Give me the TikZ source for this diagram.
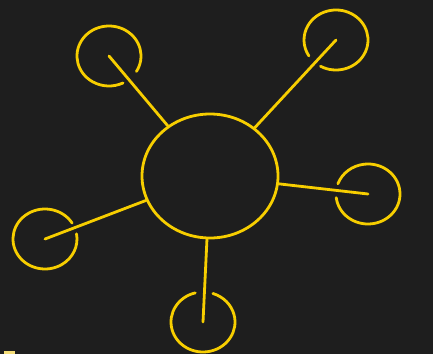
\documentclass[tikz,border=0pt]{standalone}
\usetikzlibrary{shapes.geometric}

\definecolor{board}{RGB}{30,30,30}
\definecolor{chalkyellow}{RGB}{247,206,0}
\definecolor{paleyellow}{RGB}{245,222,120}

\tikzset{
  chalk/.style={draw=chalkyellow, line width=2.8pt, line cap=round},
  hubnode/.style={ellipse, chalk, minimum width=136pt, minimum height=124pt, inner sep=0pt}
}

\begin{document}
\begin{tikzpicture}[x=1pt, y=1pt]
    % Draw the board
    \fill[board] (0,0) rectangle (433,354);
    \useasboundingbox (0,0) rectangle (433,354);
    \fill[paleyellow] (4,0) rectangle (15,3);

    % Draw the central circle
    \node[hubnode] (hub) at (210,178) {};

    % Draw spokes and open circles round their ends
    \foreach \nm/\px/\py/\sa/\ea in {tl/109/298/-31/296, tr/336/314/241/572,
        rt/368/160/187/520, lf/45/115/32/370, bt/203/32/104/432}
    {
      \coordinate (\nm) at (\px,\py);
      \draw[chalk] (hub) -- (\nm);
      \draw[chalk] ([shift={(\sa:32 and 30)}]\nm)
        arc[start angle=\sa, end angle=\ea, x radius=32, y radius=30];
    }

\end{tikzpicture}
\end{document}
